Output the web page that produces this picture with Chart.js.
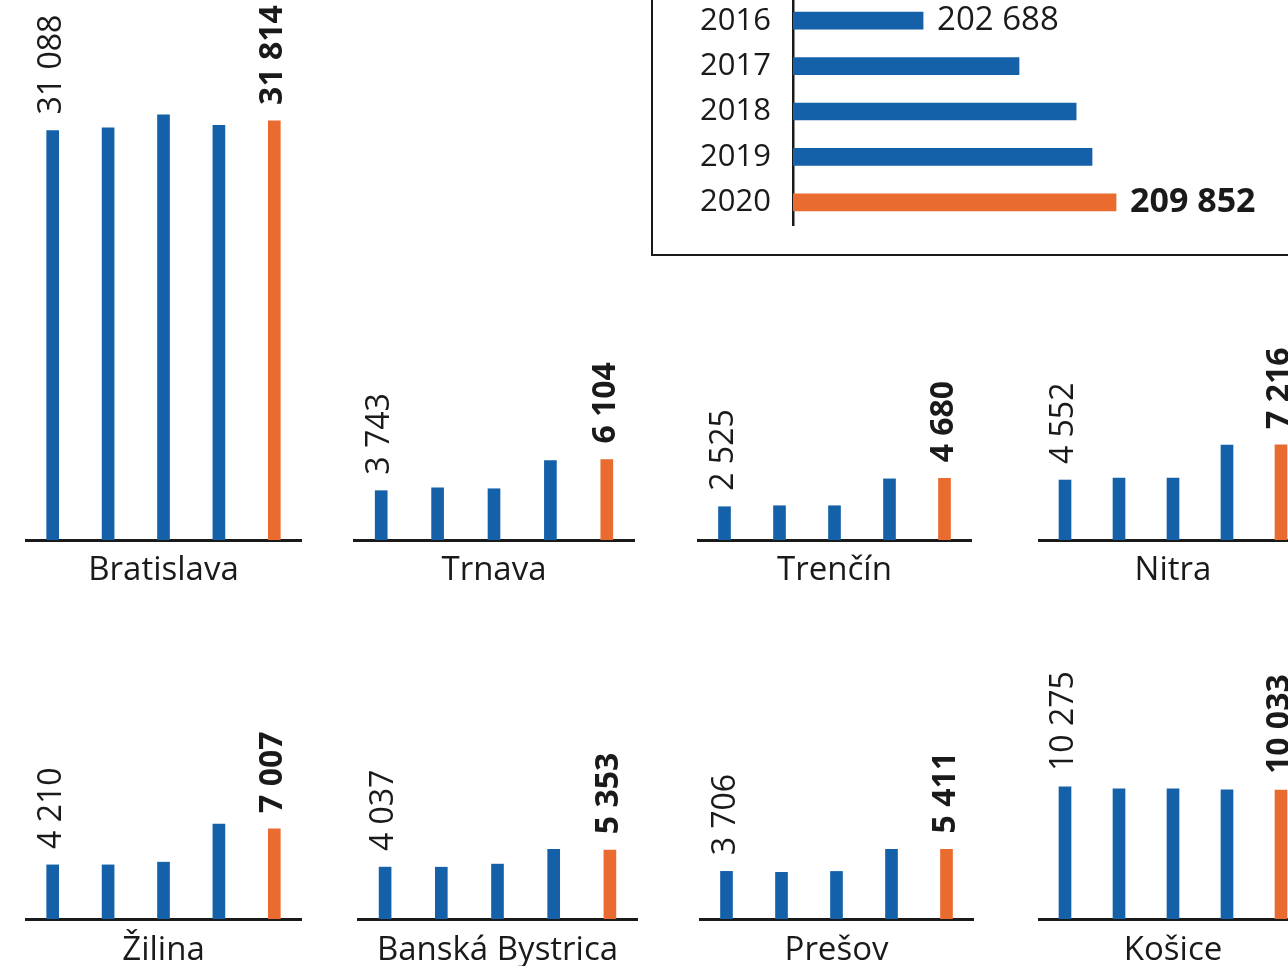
<!DOCTYPE html>
<html>
<head>
<meta charset="utf-8">
<script src="https://cdn.jsdelivr.net/npm/chart.js@4"></script>
<style>
  html, body { margin: 0; padding: 0; background: #fff; overflow: hidden; width: 1288px; height: 966px; }
  canvas { position: absolute; }
  #insetBox { position: absolute; left: 651px; top: -100px; width: 800px; height: 356px; box-sizing: border-box; border: 2px solid #1a1a1a; }
</style>
</head>
<body>
<div id="insetBox"></div>
<script>
const years = ['2016', '2017', '2018', '2019', '2020'];
const regionNames = ['Bratislava', 'Trnava', 'Trenčín', 'Nitra', 'Žilina', 'Banská Bystrica', 'Prešov', 'Košice'];

// values per region, 2016..2020
const bratislava = [31088, 31290, 32280, 31470, 31814];
const trnava = [3743, 3960, 3890, 6020, 6104];
const trencin = [2525, 2600, 2600, 4640, 4680];
const nitra = [4552, 4700, 4700, 7200, 7216];
const zilina = [4210, 4210, 4420, 7380, 7007];
const banskaBystrica = [4037, 4030, 4270, 5430, 5353];
const presov = [3706, 3630, 3700, 5420, 5411];
const kosice = [10275, 10120, 10120, 10050, 10033];

// Slovakia total, inset chart
const slovakiaTotal = [202688, 206250, 208370, 208960, 209852];

const BLUE = '#1461a9';
const ORANGE = '#e96b2f';
const INK = '#1a1a1a';
const FONT = '"Open Sans", "DejaVu Sans", sans-serif';

function fmt(v) {
  return String(v).replace(/\B(?=(\d{3})+(?!\d))/g, ' ');
}

// rotated labels above the first and last bar
const valueLabels = {
  id: 'valueLabels',
  afterDatasetsDraw(chart) {
    const meta = chart.getDatasetMeta(0);
    const ctx = chart.ctx;
    [0, 4].forEach(i => {
      const bar = meta.data[i];
      ctx.save();
      ctx.translate(bar.x - 1, bar.y - 16);
      ctx.rotate(-Math.PI / 2);
      ctx.font = (i === 4 ? 'bold ' : '') + '32px ' + FONT;
      ctx.fillStyle = INK;
      ctx.textAlign = 'left';
      ctx.textBaseline = 'middle';
      ctx.fillText(fmt(chart.data.datasets[0].data[i]), 0, 0);
      ctx.restore();
    });
  }
};

const insetLabels = {
  id: 'insetLabels',
  afterDatasetsDraw(chart) {
    const meta = chart.getDatasetMeta(0);
    const ctx = chart.ctx;
    [0, 4].forEach(i => {
      const bar = meta.data[i];
      ctx.save();
      ctx.font = (i === 4 ? 'bold 34px ' : '33px ') + FONT;
      ctx.fillStyle = INK;
      ctx.textAlign = 'left';
      ctx.textBaseline = 'middle';
      ctx.fillText(fmt(chart.data.datasets[0].data[i]), bar.x + 14, bar.y);
      ctx.restore();
    });
  }
};

// rows: top row baseline at y=540, bottom row baseline at y=919
const rows = [
  { top: 0, height: 600, axisH: 60, padTop: 100, max: 33400, titlePad: 10 },
  { top: 600, height: 380, axisH: 61, padTop: 119, max: 15560, titlePad: 10 }
];

const panels = [
  { name: regionNames[0], data: bratislava, left: 25, width: 277, row: 0 },
  { name: regionNames[1], data: trnava, left: 353, width: 282, row: 0 },
  { name: regionNames[2], data: trencin, left: 697, width: 275, row: 0 },
  { name: regionNames[3], data: nitra, left: 1038, width: 270, row: 0 },
  { name: regionNames[4], data: zilina, left: 25, width: 277, row: 1 },
  { name: regionNames[5], data: banskaBystrica, left: 357, width: 281, row: 1 },
  { name: regionNames[6], data: presov, left: 699, width: 275, row: 1 },
  { name: regionNames[7], data: kosice, left: 1038, width: 270, row: 1 }
];

function makeCanvas(left, top, width, height) {
  const c = document.createElement('canvas');
  c.width = width;
  c.height = height;
  c.style.left = left + 'px';
  c.style.top = top + 'px';
  c.style.width = width + 'px';
  c.style.height = height + 'px';
  document.body.appendChild(c);
  return c;
}

panels.forEach(p => {
  const row = rows[p.row];
  const canvas = makeCanvas(p.left, row.top, p.width, row.height);
  new Chart(canvas, {
    type: 'bar',
    data: {
      labels: years,
      datasets: [{
        data: p.data,
        backgroundColor: years.map((y, i) => i === 4 ? ORANGE : BLUE),
        barThickness: 12,
        borderWidth: 0
      }]
    },
    options: {
      responsive: false,
      animation: false,
      events: [],
      layout: { padding: { top: row.padTop, bottom: 0, left: 0, right: 0 } },
      plugins: { legend: { display: false }, tooltip: { enabled: false } },
      scales: {
        x: {
          grid: { display: false },
          ticks: { display: false },
          border: { display: true, color: INK, width: 3 },
          title: {
            display: true,
            text: p.name,
            color: INK,
            font: { family: FONT, size: 33 },
            padding: { top: 0, bottom: row.titlePad }
          },
          afterFit: s => { s.height = row.axisH; }
        },
        y: { display: false, min: 0, max: row.max }
      }
    },
    plugins: [valueLabels]
  });
});

// inset: Slovakia total
const insetCanvas = makeCanvas(652, -30, 636, 285);
new Chart(insetCanvas, {
  type: 'bar',
  data: {
    labels: years,
    datasets: [{
      data: slovakiaTotal,
      backgroundColor: years.map((y, i) => i === 4 ? ORANGE : BLUE),
      barThickness: 17,
      borderWidth: 0
    }]
  },
  options: {
    indexAxis: 'y',
    responsive: false,
    animation: false,
    events: [],
    layout: { padding: { top: 28, bottom: 30, left: 0, right: 0 } },
    plugins: { legend: { display: false }, tooltip: { enabled: false } },
    scales: {
      x: { display: false, min: 197860, max: 216234 },
      y: {
        grid: { display: false, drawTicks: false },
        border: { display: true, color: INK, width: 2.5 },
        ticks: { color: INK, font: { family: FONT, size: 31 }, padding: 22 },
        afterFit: s => {
          s.width = 141;
          s.paddingTop = 0;
          s.paddingBottom = 0;
        }
      }
    }
  },
  plugins: [insetLabels]
});
</script>
</body>
</html>
